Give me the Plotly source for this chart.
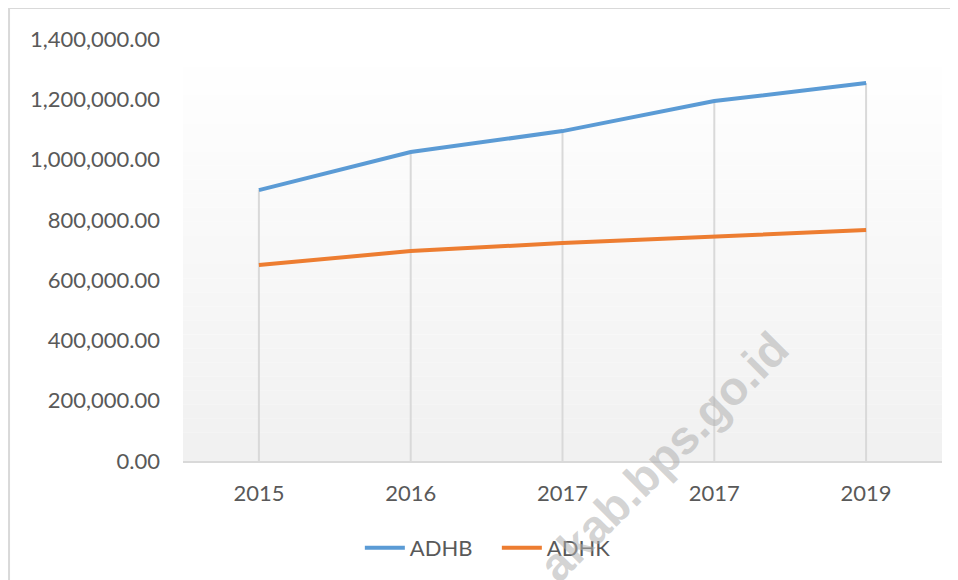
import plotly.graph_objects as go

years = ["2015", "2016", "2017", "2017", "2019"]
adhb = [898800, 1024900, 1094500, 1194000, 1253700]
adhk = [650000, 696500, 723000, 746000, 766000]
y_ticks = [0, 200000, 400000, 600000, 800000, 1000000, 1200000, 1400000]

xpos = list(range(len(years)))
txt = "#595959"
grid = "#d9d9d9"

fig = go.Figure()

# drop lines from the top series down to the axis
dx, dy = [], []
for i in xpos:
    dx += [i, i, None]
    dy += [0, max(adhb[i], adhk[i]), None]
fig.add_trace(go.Scatter(x=dx, y=dy, mode="lines", line=dict(color=grid, width=2),
                         showlegend=False, hoverinfo="skip"))

fig.add_trace(go.Scatter(x=xpos, y=adhb, mode="lines", name="ADHB",
                         line=dict(color="#5b9bd5", width=4)))
fig.add_trace(go.Scatter(x=xpos, y=adhk, mode="lines", name="ADHK",
                         line=dict(color="#ed7d31", width=4)))

# banded gradient for plot area (white -> light grey)
shapes = []
n = 30
for k in range(n):
    t = k / (n - 1)
    c = int(round(255 - t * 14))
    shapes.append(dict(type="rect", xref="paper", yref="paper",
                       x0=0, x1=1, y0=1 - (k + 1) / n, y1=1 - k / n,
                       fillcolor=f"rgb({c},{c},{c})", line=dict(width=0), layer="below"))
# outer chart frame
shapes.append(dict(type="rect", xref="paper", yref="paper",
                   x0=-0.2292, x1=1.2, y0=-0.6, y1=1.0733,
                   line=dict(color=grid, width=2), fillcolor="rgba(0,0,0,0)"))

# page body has an 8px margin, so the figure is shifted; compensate
fig.update_layout(
    width=950, height=572,
    margin=dict(l=175, r=16, t=31, b=118),
    paper_bgcolor="white", plot_bgcolor="white",
    font=dict(family="Lato, Noto Sans, sans-serif", size=22, color=txt),
    shapes=shapes,
    showlegend=True,
    legend=dict(orientation="h", x=0.233, xanchor="left", y=-0.203, yanchor="middle",
                entrywidth=82, entrywidthmode="pixels",
                font=dict(size=22, color=txt), itemwidth=40, bgcolor="rgba(0,0,0,0)"),
    annotations=[dict(text="<b>akab.bps.go.id</b>", x=0.633, y=-0.316, xref="paper", yref="paper",
                      textangle=-45, showarrow=False,
                      font=dict(family="Liberation Sans, Arial, sans-serif", size=47,
                                color="rgba(175,175,175,0.55)"))],
)
fig.update_xaxes(range=[-0.5, len(years) - 0.5], tickvals=xpos, ticktext=years,
                 showgrid=False, zeroline=False, showline=True, linecolor=grid, linewidth=2,
                 ticks="", ticklabelstandoff=12, fixedrange=True)
fig.update_yaxes(range=[0, 1400000], tickvals=y_ticks, tickformat=",.2f",
                 showgrid=False, zeroline=False, showline=False,
                 ticks="", ticklabelstandoff=22, fixedrange=True)

fig.write_html("out.html")
